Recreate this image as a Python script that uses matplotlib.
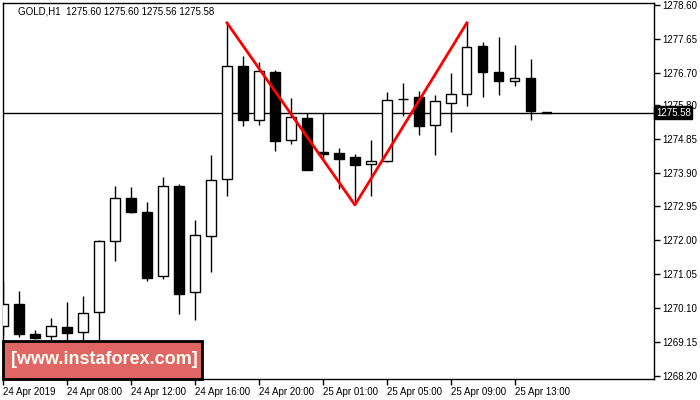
import numpy as np
import matplotlib
matplotlib.use("Agg")
import matplotlib.pyplot as plt
from matplotlib.patches import Rectangle

# data to plot (GOLD, H1)
opens = [1269.60, 1270.21, 1269.37, 1269.30, 1269.57, 1269.42, 1269.98, 1271.97,
         1273.18, 1272.78, 1270.99, 1273.53, 1270.54, 1272.11, 1273.71, 1276.88,
         1275.36, 1276.72, 1274.80, 1275.43, 1274.47, 1274.45, 1274.34, 1274.13,
         1274.21, 1275.96, 1276.02, 1275.22, 1275.86, 1276.09, 1277.44, 1276.72,
         1276.46, 1276.55, 1275.60]
highs = [1270.86, 1270.58, 1269.48, 1269.82, 1270.27, 1270.44, 1272.01, 1273.52,
         1273.49, 1273.07, 1273.77, 1273.58, 1272.57, 1274.39, 1278.10, 1277.17,
         1277.00, 1276.77, 1275.98, 1275.56, 1275.57, 1274.59, 1274.42, 1274.81,
         1276.16, 1276.41, 1276.20, 1276.07, 1276.69, 1278.11, 1277.55, 1277.70,
         1277.48, 1277.08, 1275.60]
lows = [1269.30, 1269.28, 1269.22, 1269.20, 1269.20, 1269.15, 1269.10, 1271.43,
        1272.76, 1270.86, 1270.90, 1269.94, 1269.77, 1271.12, 1273.25, 1275.21,
        1275.23, 1274.51, 1274.71, 1273.97, 1274.25, 1273.45, 1273.01, 1273.23,
        1274.19, 1275.49, 1274.95, 1274.40, 1275.04, 1275.77, 1276.03, 1276.08,
        1276.34, 1275.38, 1275.56]
closes = [1270.21, 1269.36, 1269.27, 1269.59, 1269.41, 1269.96, 1271.98, 1273.18,
          1272.78, 1270.95, 1273.52, 1270.50, 1272.14, 1273.68, 1276.88, 1275.38,
          1276.74, 1274.79, 1275.45, 1273.98, 1274.43, 1274.29, 1274.10, 1274.22,
          1275.93, 1275.95, 1275.21, 1275.90, 1276.10, 1277.41, 1276.73, 1276.48,
          1276.54, 1275.63, 1275.58]

time_labels = ["24 Apr 2019", "24 Apr 08:00", "24 Apr 12:00", "24 Apr 16:00",
               "24 Apr 20:00", "25 Apr 01:00", "25 Apr 05:00", "25 Apr 09:00",
               "25 Apr 13:00"]
price_ticks = [1268.20, 1269.15, 1270.10, 1271.05, 1272.00, 1272.95,
               1273.90, 1274.85, 1275.80, 1276.70, 1277.65, 1278.60]

# double top pattern (bar index, price)
pattern_x = [14, 22, 29]
pattern_y = [1278.10, 1272.99, 1278.10]

current_price = 1275.58

plt.rcParams['font.family'] = ['Liberation Sans', 'DejaVu Sans']

fig = plt.figure(figsize=(7, 4), dpi=100)
ax = fig.add_axes([3 / 700, 1 - 379 / 400, 651 / 700, 376.3 / 400])

index = np.arange(len(opens))
o = np.array(opens)
c = np.array(closes)
up = c >= o
body_w = 0.58

# wicks
ax.vlines(index, lows, highs, color='black', linewidth=1, zorder=2)
# bodies
ax.bar(index, np.abs(c - o), body_w, bottom=np.minimum(o, c),
       color=np.where(up, 'white', 'black'), edgecolor='black',
       linewidth=1, zorder=3)

# current price line
ax.axhline(current_price, color='black', linewidth=1, zorder=1)

# pattern
ax.plot(pattern_x, pattern_y, color='#ff0000', linewidth=2, zorder=4)

ax.set_xlim(0, 40.7)
ax.set_ylim(1268.106, 1278.665)

ax.yaxis.tick_right()
ax.set_yticks(price_ticks)
ax.set_yticklabels(["%.2f" % p for p in price_ticks], fontsize=7)
ax.set_xticks(np.arange(0, 4 * len(time_labels), 4))
ax.set_xticklabels(time_labels, fontsize=7, ha='left')
ax.tick_params(axis='both', direction='out', length=4, width=1, pad=2, colors='black')
for s in ax.spines.values():
    s.set_linewidth(1)

# current price box
ax.text(1.003, current_price, "%.2f" % current_price, transform=ax.get_yaxis_transform(),
        fontsize=7, color='white', va='center', ha='left',
        bbox=dict(boxstyle='square,pad=0.15', facecolor='black', edgecolor='black'),
        zorder=6, clip_on=False)

# header
ax.text(15 / 651, 1 - 8.5 / 376.3, "GOLD,H1  1275.60 1275.60 1275.56 1275.58",
        transform=ax.transAxes, fontsize=7, va='center', ha='left')

# logo
ax.add_patch(Rectangle((0, 0), 199 / 651, 38.5 / 376.3, transform=ax.transAxes,
                       facecolor='#e06666', edgecolor='black', linewidth=2,
                       zorder=5, clip_on=False))
ax.text(101 / 651, 19.5 / 376.3, "[www.instaforex.com]", transform=ax.transAxes,
        fontsize=13, fontweight='bold', color='#fffff4', va='center', ha='center',
        zorder=6)

plt.savefig('out.png', dpi=100)
